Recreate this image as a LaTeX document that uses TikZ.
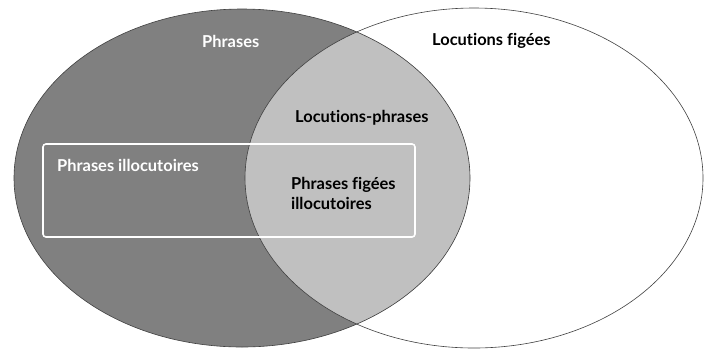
\documentclass[tikz,border=0pt]{standalone}
\usepackage{fontspec}
\setmainfont{Lato}[Ligatures=CommonOff]
\usepackage{tikz}

\definecolor{phrgray}{RGB}{128,128,128}
\definecolor{locgray}{RGB}{192,192,192}

\tikzset{
  setline/.style={draw=black!75, line width=0.6bp},
  lbl/.style={font=\fontsize{16.5}{20}\selectfont\bfseries, inner sep=0pt, anchor=west},
}

\begin{document}
\begin{tikzpicture}[x=1bp,y=-1bp]
\useasboundingbox (0,0) rectangle (704,349);
  % Phrases
  \fill[phrgray] (242,178) ellipse [x radius=228, y radius=169];
  \begin{scope}
    \clip (242,178) ellipse [x radius=228, y radius=169];
    \fill[locgray] (474,178) ellipse [x radius=229, y radius=170];
  \end{scope}
  \draw[setline] (242,178) ellipse [x radius=228, y radius=169];
  % Locutions figees
  \draw[setline] (474,178) ellipse [x radius=229, y radius=170];
  % illocutoires
  \draw[white, line width=1.6bp, rounded corners=3bp] (43,144) rectangle (415,237);
  \node[lbl, text=white] (phrases) at (202,41) {Phrases};
  \node[lbl] (locfig) at (432,41) {Locutions figées};
  \node[lbl] (locphr) at (295,118) {Locutions-phrases};
  \node[lbl, text=white] (phrillo) at (57,165) {Phrases illocutoires};
  \node[lbl, align=left, font=\fontsize{16.5}{20}\selectfont\bfseries] (phrfig) at (291,193) {Phrases figées\\illocutoires};
\end{tikzpicture}
\end{document}
